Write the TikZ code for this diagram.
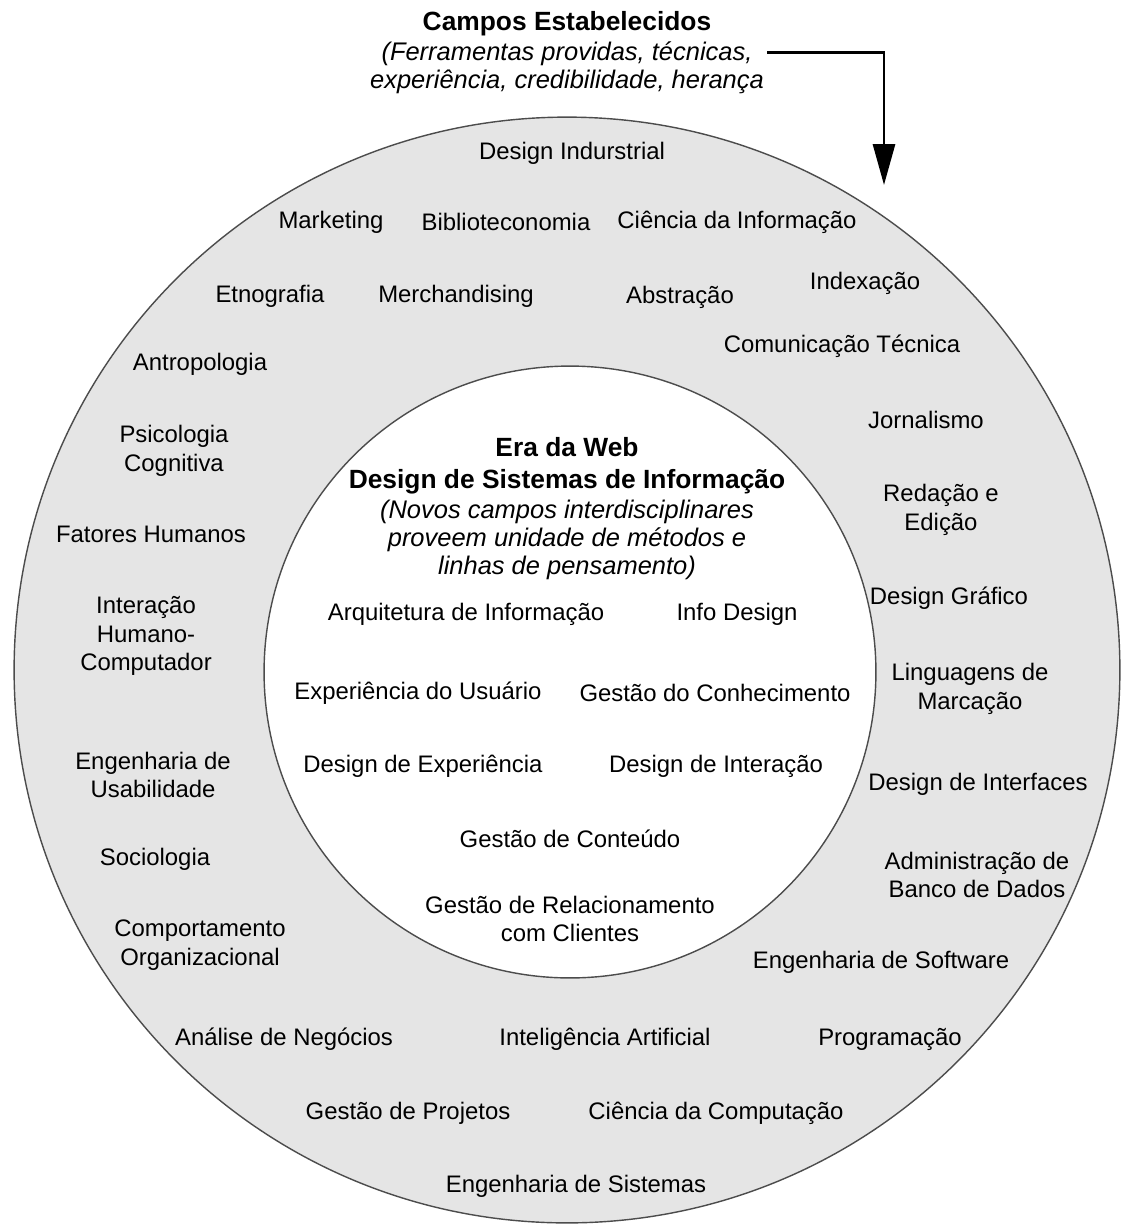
\documentclass[tikz,border=0pt]{standalone}
\usepackage{fontspec}
\setmainfont{Liberation Sans}
\usetikzlibrary{arrows.meta}

\begin{document}
\begin{tikzpicture}[x=0.02cm,y=-0.02cm,
  field/.style={align=center,font=\fontsize{13.6}{16.2}\selectfont},
  head/.style={align=center,font=\fontsize{15}{18}\selectfont\bfseries},
  note/.style={align=center,font=\fontsize{14.5}{15.8}\selectfont\itshape},
  ring/.style={draw=black!70,line width=0.8pt}]
\useasboundingbox (0,0) rectangle (1124,1225);
\fill[white] (0,0) rectangle (1124,1225);
% the two circles
\draw[ring,fill=black!10] (567,670) circle[radius=11.06cm];
\draw[ring,fill=white] (570,672) circle[radius=6.12cm];

% title and arrow
\node[head] (campos) at (567,24) {Campos Estabelecidos};
\node[note] (prov) at (567,68) {(Ferramentas providas, técnicas,\\experiência, credibilidade, herança};
\coordinate (src) at (767,52);
\coordinate (tip) at (884,185);
\draw[line width=1.7pt,-{Triangle[width=0.44cm,length=0.82cm]}] (src) -| (tip);

% outer ring: established fields
\node[field] (ind) at (572,153) {Design Indurstrial};
\node[field] (mkt) at (331,222) {Marketing};
\node[field] (bib) at (506,222) {Biblioteconomia};
\node[field] (cinf) at (737,222) {Ciência da Informação};
\node[field] (etn) at (270,296) {Etnografia};
\node[field] (merch) at (456,296) {Merchandising};
\node[field] (abs) at (680,297) {Abstração};
\node[field] (idx) at (865,283) {Indexação};
\node[field] (comt) at (842,346) {Comunicação Técnica};
\node[field] (antro) at (200,364) {Antropologia};
\node[field] (psico) at (174,451) {Psicologia\\Cognitiva};
\node[field] (jorn) at (926,420) {Jornalismo};
\node[field] (red) at (941,510) {Redação e\\Edição};
\node[field] (fat) at (151,534) {Fatores Humanos};
\node[field] (dgraf) at (949,598) {Design Gráfico};
\node[field] (ihc) at (146,636) {Interação\\Humano-\\Computador};
\node[field] (ling) at (970,689) {Linguagens de\\Marcação};
\node[field] (usab) at (153,775) {Engenharia de\\Usabilidade};
\node[field] (dintf) at (978,784) {Design de Interfaces};
\node[field] (soc) at (155,859) {Sociologia};
\node[field] (adm) at (977,875) {Administração de\\Banco de Dados};
\node[field] (comp) at (200,945) {Comportamento\\Organizacional};
\node[field] (engsw) at (881,962) {Engenharia de Software};
\node[field] (ana) at (284,1039) {Análise de Negócios};
\node[field] (ia) at (605,1039) {Inteligência Artificial};
\node[field] (prog) at (890,1039) {Programação};
\node[field] (gproj) at (408,1113) {Gestão de Projetos};
\node[field] (ccomp) at (716,1113) {Ciência da Computação};
\node[field] (engsis) at (576,1186) {Engenharia de Sistemas};

% inner circle: web era
\node[head] (era) at (567,466) {Era da Web\\Design de Sistemas de Informação};
\node[note] (novos) at (567,540) {(Novos campos interdisciplinares\\proveem unidade de métodos e\\linhas de pensamento)};
\node[field] (arq) at (466,614) {Arquitetura de Informação};
\node[field] (info) at (737,614) {Info Design};
\node[field] (ux) at (418,693) {Experiência do Usuário};
\node[field] (gcon) at (715,693) {Gestão do Conhecimento};
\node[field] (dexp) at (423,766) {Design de Experiência};
\node[field] (dint) at (716,766) {Design de Interação};
\node[field] (gcont) at (570,839) {Gestão de Conteúdo};
\node[field] (grel) at (570,919) {Gestão de Relacionamento\\com Clientes};
\end{tikzpicture}
\end{document}
